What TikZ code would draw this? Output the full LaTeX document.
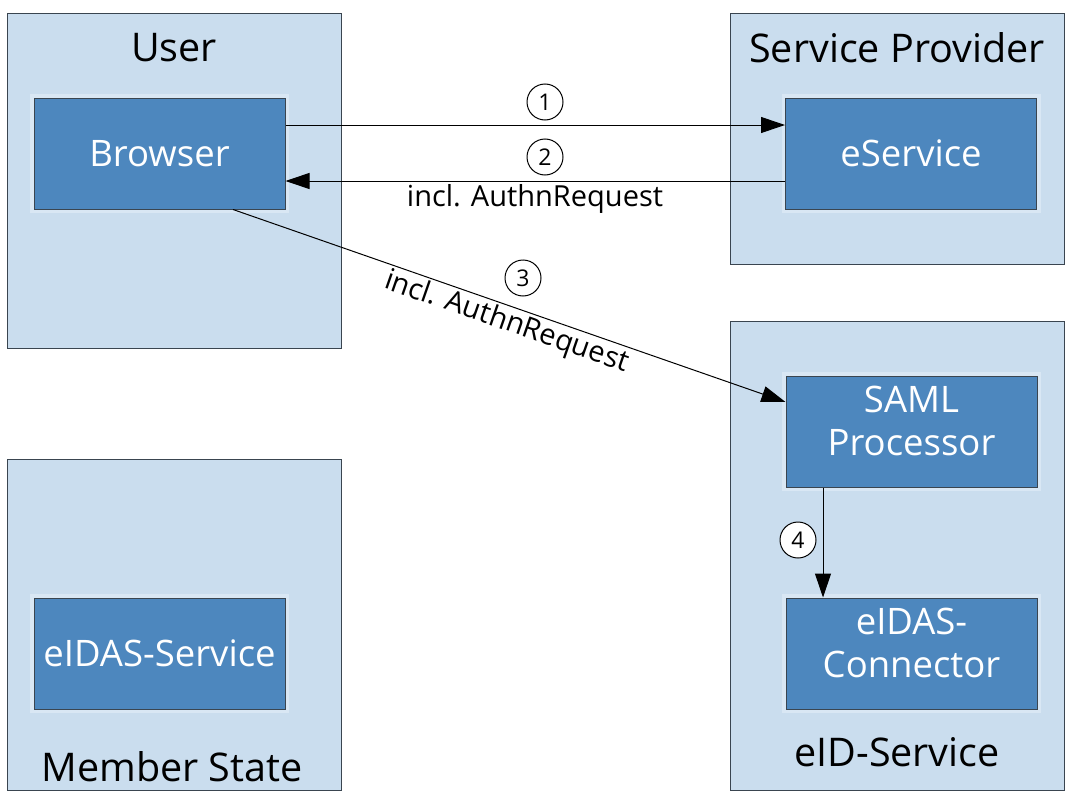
\documentclass[tikz,border=0pt]{standalone}
\usepackage{fontspec}
\setmainfont{Open Sans}
\usetikzlibrary{arrows.meta,calc}
\definecolor{outerfill}{HTML}{CADDEE}
\definecolor{outerglow}{HTML}{D9E7F4}
\definecolor{innerfill}{HTML}{4D87BE}
\definecolor{frame}{HTML}{3A4550}
\begin{document}
\begin{tikzpicture}[x=1pt,y=-1pt,
  outerbox/.style={rectangle, draw=frame, line width=1pt, fill=outerfill, minimum width=334pt, inner sep=0pt,
    append after command={\pgfextra{\draw[outerglow, line width=4pt] ([xshift=6pt,yshift=-6pt]\tikzlastnode.north west) rectangle ([xshift=-6pt,yshift=6pt]\tikzlastnode.south east);}}},
  innerbox/.style={rectangle, draw=frame, line width=1pt, fill=innerfill, minimum width=251pt, minimum height=111pt, inner sep=0pt, text=white, font=\fontsize{36.5}{43}\selectfont,
    preaction={draw=outerglow, line width=8pt}},
  title/.style={font=\fontsize{39.5}{46}\selectfont, text=black, inner sep=0pt},
  inlabel/.style={font=\fontsize{36.5}{43}\selectfont, text=white, align=center, inner sep=0pt},
  num/.style={circle, draw=black, line width=1pt, fill=white, minimum size=36pt, inner sep=0pt, font=\fontsize{23}{26}\selectfont},
  msg/.style={-{Triangle[length=24pt,width=16pt]}, line width=1pt, draw=black},
  edgelabel/.style={font=\fontsize{29}{32}\selectfont, inner sep=2pt}
]
\useasboundingbox (0,0) rectangle (1068,792);
\fill[white] (0,0) rectangle (1068,792);

% outer boxes
\node[outerbox, minimum height=334pt] (user) at (174,181) {};
\node[outerbox, minimum height=250pt] (sp) at (897,139) {};
\node[outerbox, minimum height=469pt] (eid) at (897,555.5) {};
\node[outerbox, minimum height=331pt] (ms) at (174,624.5) {};

% titles
\node[title] (usertitle) at (174,48) {User};
\node[title] (sptitle) at (897,48) {Service Provider};
\node[title] (eidtitle) at (897,752) {eID-Service};
\node[title] (mstitle) at (172,767) {Member State};

% inner boxes
\node[innerbox] (browser) at (159.5,153.5) {Browser};
\node[innerbox] (eservice) at (911,153.5) {eService};
\node[innerbox] (saml) at (911.5,431.5) {};
\node[inlabel] (samltext) at (911.5,421) {SAML\\Processor};
\node[innerbox] (connector) at (911.5,653.5) {};
\node[inlabel] (connectortext) at (911.5,643) {eIDAS-\\Connector};
\node[innerbox] (eidas) at (159.5,653.5) {eIDAS-Service};

% messages
\draw[msg] ([yshift=28.5pt]browser.east) -- ([yshift=28.5pt]browser.east -| eservice.west);
\draw[msg] ([yshift=-27.5pt]eservice.west) -- ([yshift=-27.5pt]eservice.west -| browser.east);
\draw[msg] ([xshift=73.5pt]browser.south) -- node[pos=0.505, sloped, below, edgelabel] (lbl3) {incl. AuthnRequest} ([yshift=29.5pt]saml.west);
\draw[msg] ([xshift=-88.5pt]saml.south) -- ([xshift=-88.5pt]saml.south |- connector.north);

\node[edgelabel, anchor=base] (lbl2) at (535,206) {incl. AuthnRequest};

% step numbers
\node[num] (n1) at (545,102) {1};
\node[num] (n2) at (545,157) {2};
\node[num] (n3) at (523,278) {3};
\node[num] (n4) at (798,540) {4};
\end{tikzpicture}
\end{document}
